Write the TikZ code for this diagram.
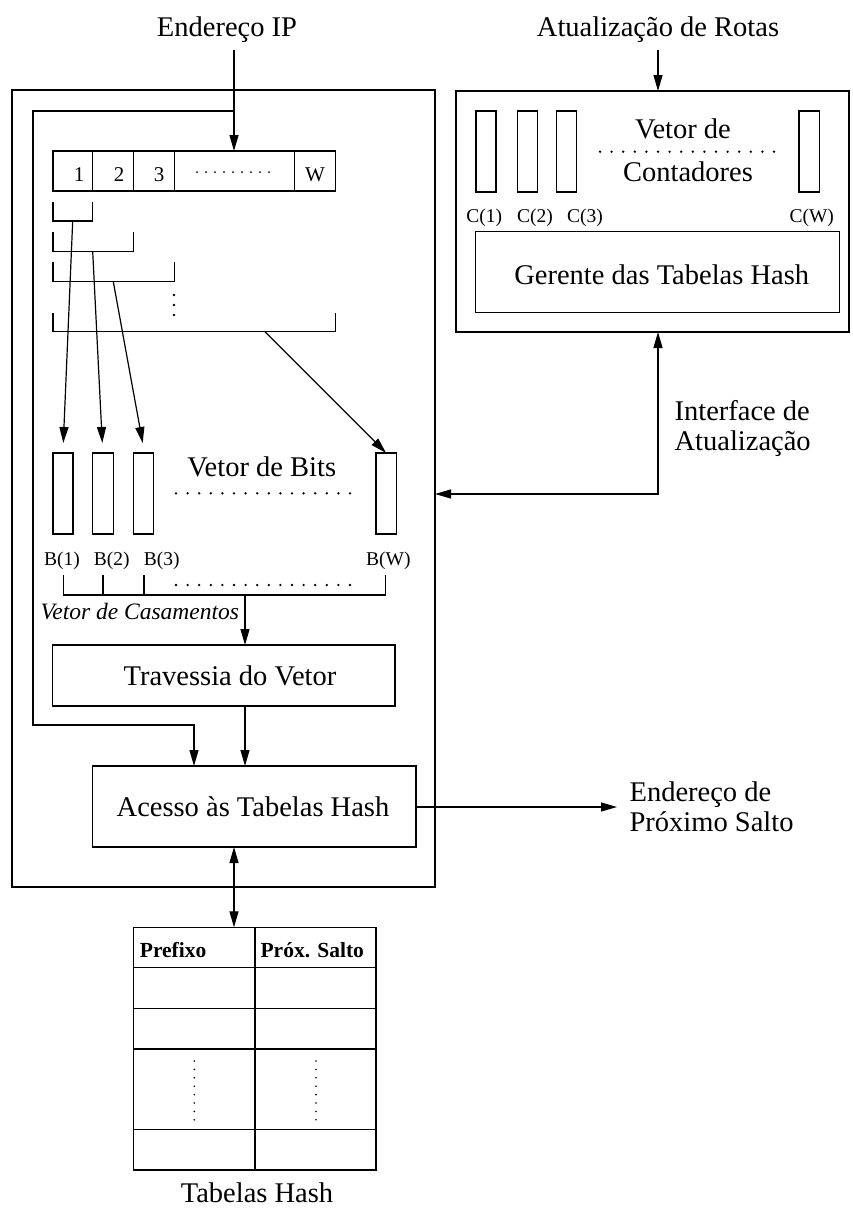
\documentclass[tikz,border=0pt]{standalone}
\usepackage{fontspec}
\setmainfont{Liberation Serif}
\usetikzlibrary{arrows.meta}
\begin{document}
\begin{tikzpicture}[x=1pt,y=-1pt,line width=1.2pt,
  box/.style={draw,inner sep=0pt,outer sep=0pt,anchor=north west},
  lbl/.style={font=\fontsize{28.5}{30}\selectfont,inner sep=0pt},
  sml/.style={font=\fontsize{19.5}{21}\selectfont,inner sep=0pt},
  reg/.style={font=\fontsize{21}{22}\selectfont,inner sep=0pt},
  hdr/.style={font=\fontsize{21.5}{22}\selectfont\bfseries,inner sep=0pt},
  arr/.style={-{Triangle[length=16pt,width=9pt]}},
  darr/.style={{Triangle[length=16pt,width=9pt]}-{Triangle[length=16pt,width=9pt]}},
  dotl/.style={line width=2.6pt,line cap=round,dash pattern=on 0pt off 11.6pt},
  dots/.style={line width=2pt,line cap=round,dash pattern=on 0pt off 9pt}
]
\useasboundingbox (0,0) rectangle (853,1216);
% outer boxes
\node[box,minimum width=423pt,minimum height=797pt] (lbox) at (12,90) {};
\node[box,minimum width=393pt,minimum height=241pt] (rbox) at (456,91) {};
% register
\node[box,minimum width=39.7pt,minimum height=40pt] (r1) at (53,151) {};
\node[box,minimum width=41pt,minimum height=40pt] (r2) at (92.7,151) {};
\node[box,minimum width=40.6pt,minimum height=40pt] (r3) at (133.7,151) {};
\node[box,minimum width=120.4pt,minimum height=40pt] (rd) at (174.3,151) {};
\node[box,minimum width=41pt,minimum height=40pt] (rw) at (294.7,151) {};
\node[reg,anchor=base] (n1) at (79,181) {1};
\node[reg,anchor=base] (n2) at (119,181) {2};
\node[reg,anchor=base] (n3) at (159,181) {3};
\node[reg,anchor=base] (nw) at (315,181) {W};
\draw[dots] (197,172) -- (270,172);
% brackets
\draw (53,201.7) |- (92.7,221) -- (92.7,201.7);
\draw (53,232) |- (133.7,251.7) -- (133.7,232);
\draw (53,262) |- (174.3,281.7) -- (174.3,262);
\draw (53,313) |- (335.7,331.7) -- (335.7,313);
\draw[dotl,dash pattern=on 0pt off 10pt] (174,295) -- (174,316);
\coordinate (s1) at (72.7,221);
\coordinate (s2) at (92.7,251.7);
\coordinate (s3) at (113.3,281.7);
\coordinate (s4) at (265,331.7);
\coordinate (e1) at (63.3,443);
\coordinate (e2) at (102.3,443);
\coordinate (e3) at (142.7,443);
% bit vectors
\node[box,minimum width=20pt,minimum height=81pt] (b1) at (53,453) {};
\node[box,minimum width=21pt,minimum height=81pt] (b2) at (92.5,453) {};
\node[box,minimum width=20.4pt,minimum height=81pt] (b3) at (133.3,453) {};
\node[box,minimum width=20.3pt,minimum height=81pt] (bw) at (376,453) {};
\draw[arr] (s1) -- (e1);
\draw[arr] (s2) -- (e2);
\draw[arr] (s3) -- (e3);
\draw[arr] (s4) -- (bw.north);
\node[lbl,anchor=base] (vb) at (261.7,476.7) {Vetor de Bits};
\draw[dotl] (176,493.3) -- (351,493.3);
\node[sml,anchor=base] (lb1) at (62,565) {B(1)};
\node[sml,anchor=base] (lb2) at (111.7,565) {B(2)};
\node[sml,anchor=base] (lb3) at (161.7,565) {B(3)};
\node[sml,anchor=base] (lbw) at (388.3,565) {B(W)};
% match vector bracket
\draw (63.7,575) |- (385.7,595) -- (385.7,575);
\draw (103,575) -- (103,595);
\draw (144,575) -- (144,595);
\draw[dotl] (176,585) -- (351,585);
\coordinate (mv) at (245,595);
\node[font=\fontsize{23.5}{25}\selectfont\itshape,inner sep=0pt,anchor=base west] (vc) at (40,619) {Vetor de Casamentos};
% traversal and hash access
\node[box,minimum width=342.3pt,minimum height=61pt] (trav) at (52.7,645) {};
\node[lbl,anchor=base] (travt) at (230,685) {Travessia do Vetor};
\node[box,minimum width=323.7pt,minimum height=81pt] (acc) at (92.3,766) {};
\node[lbl,anchor=base] (acct) at (253,816.5) {Acesso às Tabelas Hash};
\draw[arr] (mv) -- (trav.north -| mv);
\coordinate (tv) at (245,706);
\draw[arr] (tv) -- (acc.north -| tv);
% IP input
\node[lbl,anchor=base] (ip) at (227,36) {Endereço IP};
\coordinate (ipin) at (234,50);
\coordinate (ipj) at (234,111);
\coordinate (fb) at (33,725);
\coordinate (fbx) at (194,725);
\draw[arr] (ipin) -- (ipin |- rd.north);
\draw[arr] (ipj) -| (fb) -| (acc.north -| fbx);
% right box
\node[lbl,anchor=base] (rot) at (658,36) {Atualização de Rotas};
\coordinate (rin) at (658,50);
\draw[arr] (rin) -- (rin |- rbox.north);
\node[box,minimum width=20pt,minimum height=81pt] (c1) at (476,111) {};
\node[box,minimum width=20pt,minimum height=81pt] (c2) at (517.3,111) {};
\node[box,minimum width=20pt,minimum height=81pt] (c3) at (556.7,111) {};
\node[box,minimum width=20.3pt,minimum height=81pt] (cw) at (799,111) {};
\node[lbl,anchor=base] (vc1) at (683,138.3) {Vetor de};
\node[lbl,anchor=base] (vc2) at (688,181.7) {Contadores};
\draw[dotl] (600,151.7) -- (775,151.7);
\node[sml,anchor=base] (lc1) at (484.3,222) {C(1)};
\node[sml,anchor=base] (lc2) at (535,222) {C(2)};
\node[sml,anchor=base] (lc3) at (585,222) {C(3)};
\node[sml,anchor=base] (lcw) at (811.7,222) {C(W)};
\node[box,minimum width=363.8pt,minimum height=80.6pt] (ger) at (475.7,231.7) {};
\node[lbl,anchor=base] (gert) at (661.7,284) {Gerente das Tabelas Hash};
% update interface
\coordinate (ifc) at (658,494);
\draw[darr] (lbox.east |- ifc) -- (ifc) -- (rbox.south -| ifc);
\node[lbl,anchor=base west] (if1) at (674,420) {Interface de};
\node[lbl,anchor=base west] (if2) at (674,450.7) {Atualização};
% next hop
\coordinate (out) at (617,807);
\draw[arr] (acc.east |- out) -- (out);
\node[lbl,anchor=base west] (nh1) at (629,801.7) {Endereço de};
\node[lbl,anchor=base west] (nh2) at (629,831.7) {Próximo Salto};
% hash table
\node[box,minimum width=242.7pt,minimum height=242.7pt] (tab) at (133.3,927.3) {};
\coordinate (ta) at (234,900);
\draw[darr] (acc.south -| ta) -- (tab.north -| ta);
\draw (133.3,967.7) -- (376,967.7);
\draw (133.3,1008.7) -- (376,1008.7);
\draw (133.3,1049) -- (376,1049);
\draw (133.3,1129.3) -- (376,1129.3);
\draw (255,927.3) -- (255,1170);
\node[hdr,anchor=base west] (hp) at (139.3,957.7) {Prefixo};
\node[hdr,anchor=base west] (hs) at (260,957.7) {Próx. Salto};
\draw[line width=1.8pt,line cap=round,dash pattern=on 0pt off 8.4pt] (194.3,1061) -- (194.3,1120);
\draw[line width=1.8pt,line cap=round,dash pattern=on 0pt off 8.4pt] (316,1061) -- (316,1120);
\node[lbl,anchor=base] (tht) at (257,1202.7) {Tabelas Hash};
\end{tikzpicture}
\end{document}
